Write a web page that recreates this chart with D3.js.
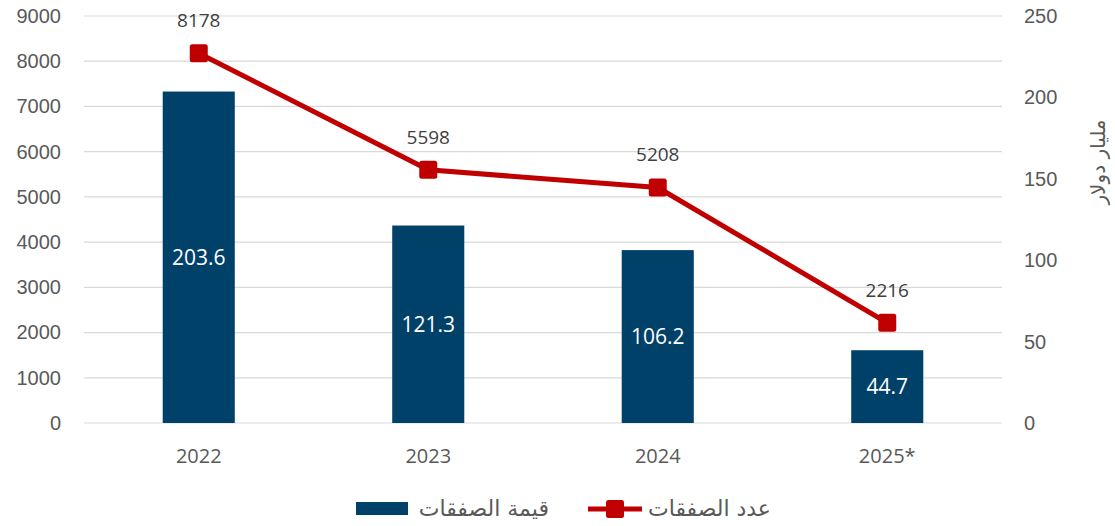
<!DOCTYPE html>
<html><head><meta charset="utf-8">
<script src="https://cdn.jsdelivr.net/npm/d3@7"></script>
<style>body{margin:0;background:#fff;}svg{display:block;font-family:"Open Sans","DejaVu Sans",sans-serif;}</style>
</head><body><svg id="c" width="1115" height="526"></svg>
<script>
const categories = ["2022","2023","2024","2025*"];
const dealValues = [203.6,121.3,106.2,44.7];
const dealCounts = [8178,5598,5208,2216];
const leftTicks = [0,1000,2000,3000,4000,5000,6000,7000,8000,9000];
const rightTicks = [0,50,100,150,200,250];
const rightTitle = "مليار دولار";
const legendBar = "قيمة الصفقات";
const legendLine = "عدد الصفقات";

const svg = d3.select("#c");
const L = 84, R = 1002, T = 16, B = 423;
const x = d3.scaleBand().domain(categories).range([L,R]).paddingInner(0.686).paddingOuter(0.343);
const yL = d3.scaleLinear().domain([0,9000]).range([B,T]);
const yR = d3.scaleLinear().domain([0,250]).range([B,T]);
const cx = c => x(c) + x.bandwidth()/2;

// grid
svg.append("g").selectAll("line").data(leftTicks).join("line")
  .attr("x1",L).attr("x2",R).attr("y1",d=>yL(d)).attr("y2",d=>yL(d))
  .attr("stroke","#d9d9d9").attr("stroke-width",1.2);

// left axis
const gl = svg.append("g").attr("transform",`translate(${L},0)`)
  .call(d3.axisLeft(yL).tickValues(leftTicks).tickSize(0).tickPadding(23).tickFormat(d3.format("d")));
gl.select(".domain").remove();
gl.selectAll("text").attr("fill","#595959").style("font-size","20px");

// right axis
const gr = svg.append("g").attr("transform",`translate(${R},0)`)
  .call(d3.axisRight(yR).tickValues(rightTicks).tickSize(0).tickPadding(22).tickFormat(d3.format("d")));
gr.select(".domain").remove();
gr.selectAll("text").attr("fill","#595959").style("font-size","20px");

// right title
svg.append("text").attr("transform","translate(1105,162) rotate(-90)")
  .attr("text-anchor","middle").attr("fill","#595959").style("font-size","20px")
  .attr("font-family","DejaVu Sans").text(rightTitle);

// x axis labels
svg.append("g").selectAll("text").data(categories).join("text")
  .attr("x",d=>cx(d)).attr("y",463).attr("text-anchor","middle")
  .attr("fill","#595959").style("font-size","20px").text(d=>d);

// bars
svg.append("g").selectAll("rect").data(dealValues).join("rect")
  .attr("x",(d,i)=>x(categories[i])).attr("width",x.bandwidth())
  .attr("y",d=>yR(d)).attr("height",d=>B-yR(d)).attr("fill","#00416a");
svg.append("g").selectAll("text").data(dealValues).join("text")
  .attr("x",(d,i)=>cx(categories[i])).attr("y",d=>(yR(d)+B)/2+7.5)
  .attr("text-anchor","middle").attr("fill","#fff").style("font-size","21px")
  .text(d=>d.toFixed(1));

// line
const line = d3.line().x((d,i)=>cx(categories[i])).y(d=>yL(d));
svg.append("path").datum(dealCounts).attr("d",line).attr("fill","none")
  .attr("stroke","#c00000").attr("stroke-width",5);
svg.append("g").selectAll("rect").data(dealCounts).join("rect")
  .attr("x",(d,i)=>cx(categories[i])-9).attr("y",d=>yL(d)-9)
  .attr("width",18).attr("height",18).attr("rx",2.5).attr("fill","#c00000");
svg.append("g").selectAll("text").data(dealCounts).join("text")
  .attr("x",(d,i)=>cx(categories[i])).attr("y",d=>yL(d)-26)
  .attr("text-anchor","middle").attr("fill","#404040").style("font-size","19px").text(d=>d);

// legend
svg.append("rect").attr("x",356).attr("y",502).attr("width",52).attr("height",13).attr("fill","#00416a");
svg.append("text").attr("x",549).attr("y",516).attr("text-anchor","end").attr("fill","#595959")
  .style("font-size","22px").attr("font-family","DejaVu Sans").text(legendBar);
svg.append("line").attr("x1",588).attr("x2",642).attr("y1",509).attr("y2",509)
  .attr("stroke","#c00000").attr("stroke-width",5);
svg.append("rect").attr("x",606).attr("y",500).attr("width",18).attr("height",18).attr("rx",2.5).attr("fill","#c00000");
svg.append("text").attr("x",771).attr("y",516).attr("text-anchor","end").attr("fill","#595959")
  .style("font-size","22px").attr("font-family","DejaVu Sans").text(legendLine);
</script></body></html>
